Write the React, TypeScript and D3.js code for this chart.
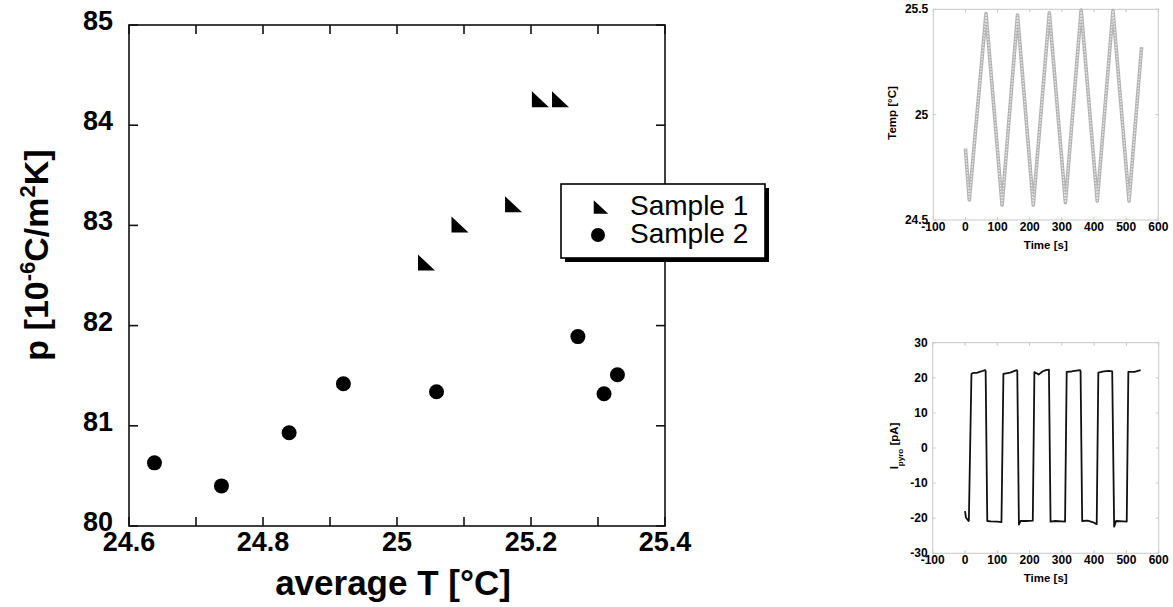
import React from "react";
import * as d3 from "d3";

// ---------- main chart data ----------
const sample1T = [25.214, 25.244, 25.174, 25.094, 25.044];
const sample1P = [84.26, 84.26, 83.21, 83.01, 82.63];
const sample2T = [24.638, 24.738, 24.839, 24.92, 25.059, 25.27, 25.309, 25.329];
const sample2P = [80.63, 80.4, 80.93, 81.42, 81.34, 81.89, 81.32, 81.51];
const xTickValues = [24.6, 24.7, 24.8, 24.9, 25.0, 25.1, 25.2, 25.3, 25.4];
const xTickLabels = ["24.6", "", "24.8", "", "25", "", "25.2", "", "25.4"];
const yTickValues = [80, 81, 82, 83, 84, 85];
const legendLabels = ["Sample 1", "Sample 2"];

// ---------- inset 1: temperature vs time ----------
const tempTime = [0, 12, 64, 114, 162, 211, 261, 311, 360, 410, 459, 509, 548];
const tempValue = [24.84, 24.595, 25.48, 24.571, 25.473, 24.571, 25.484, 24.582, 25.497, 24.59, 25.494, 24.59, 25.32];
const tempYTicks = [24.5, 25, 25.5];
const tempYLabels = ["24.5", "25", "25.5"];

// ---------- inset 2: pyro current vs time ----------
const curTime = [0, 3, 11, 12, 20, 25, 36, 50, 62, 64, 69, 80, 100, 113, 119, 140, 160, 162, 167, 172, 190, 210, 215, 222, 228, 240, 250, 260, 265, 280, 300, 310, 315, 330, 356, 358, 363, 380, 395, 408, 413, 430, 445, 456, 462, 468, 490, 501, 506, 525, 544];
const curValue = [-18, -19.8, -20.8, -20.7, 21.1, 21.4, 21.4, 21.8, 22.2, 21.9, -20.8, -20.9, -21, -21.1, 21.1, 21.5, 22.2, 22, -21.8, -20.8, -20.8, -20.7, 21.6, 21.3, 20.9, 21.8, 22.2, 22.3, -21, -20.8, -20.9, -21, 21.7, 21.8, 22.2, 21.9, -20.8, -20.7, -21.1, -21.7, 21.5, 21.8, 22, 21.8, -22.4, -20.8, -20.9, -21, 21.7, 21.7, 22.2];
const curYTicks = [-30, -20, -10, 0, 10, 20, 30];
const timeTicks = [-100, 0, 100, 200, 300, 400, 500, 600];

const FONT = "'Liberation Sans', Arial, Helvetica, sans-serif";

function Inset({ x0, x1, y0, y1, yDomain, yTicks, yLabels, xs, ys, kind, yTitle }: any) {
  const xs_ = d3.scaleLinear().domain([-100, 600]).range([x0, x1]);
  const ys_ = d3.scaleLinear().domain(yDomain).range([y1, y0]);
  const pts = xs.map((t: number, i: number) => [t, ys[i]] as [number, number]);
  const line = d3.line<[number, number]>().x((d) => xs_(d[0])).y((d) => ys_(d[1]));
  const path = line(pts) || "";
  const gray = "#c8c8c8";
  return (
    <g fontFamily={FONT} fontWeight="bold">
      <rect x={x0} y={y0} width={x1 - x0} height={y1 - y0} fill="none" stroke={gray} strokeWidth={1} />
      {timeTicks.map((t) => (
        <g key={"xt" + t}>
          <line x1={xs_(t)} x2={xs_(t)} y1={y1} y2={y1 - 3} stroke={gray} />
          <line x1={xs_(t)} x2={xs_(t)} y1={y0} y2={y0 + 3} stroke={gray} />
          <text x={xs_(t)} y={y1 + 10.5} fontSize={12} textAnchor="middle">{t}</text>
        </g>
      ))}
      {yTicks.map((v: number, i: number) => (
        <g key={"yt" + v}>
          <line x1={x0} x2={x0 + 3} y1={ys_(v)} y2={ys_(v)} stroke={gray} />
          <line x1={x1} x2={x1 - 3} y1={ys_(v)} y2={ys_(v)} stroke={gray} />
          <text x={x0 - 5} y={ys_(v) + 4} fontSize={12} textAnchor="end">{yLabels[i]}</text>
        </g>
      ))}
      {kind === "temp" ? (
        <g>
          <path d={path} fill="none" stroke="#b4b4b4" strokeWidth={3.6} strokeLinejoin="round" />
          <path d={path} fill="none" stroke="#ececec" strokeWidth={1.3} strokeDasharray="1.5,1.5" />
        </g>
      ) : (
        <path d={path} fill="none" stroke="#111" strokeWidth={1.8} strokeLinejoin="round" />
      )}
      <text x={(x0 + x1) / 2} y={y1 + 29} fontSize={11.5} textAnchor="middle">Time [s]</text>
      {yTitle}
    </g>
  );
}

export default function App() {
  const W = 1173, H = 607;
  const left = 129, right = 665, top = 25, bottom = 526;
  const x = d3.scaleLinear().domain([24.6, 25.4]).range([left, right]);
  const y = d3.scaleLinear().domain([80, 85]).range([bottom, top]);
  const tri = "M -8.5 -8 L -8.5 8 L 8.5 8 Z";

  const legX = 561, legY = 184, legW = 204, legH = 74;

  return (
    <svg width={W} height={H} style={{ position: "absolute", left: 0, top: 0, background: "#fff" }}>
      <rect x={0} y={0} width={W} height={H} fill="#fff" />
      {/* main frame */}
      <rect x={left} y={top} width={right - left} height={bottom - top} fill="none" stroke="#111" strokeWidth={1.6} />
      {xTickValues.map((v, i) => (
        <g key={"x" + i}>
          <line x1={x(v)} x2={x(v)} y1={bottom} y2={bottom - 9} stroke="#111" strokeWidth={1.6} />
          <line x1={x(v)} x2={x(v)} y1={top} y2={top + 9} stroke="#111" strokeWidth={1.6} />
          {xTickLabels[i] && (
            <text x={x(v)} y={bottom + 25} fontSize={27} fontWeight="bold" fontFamily={FONT} textAnchor="middle">
              {xTickLabels[i]}
            </text>
          )}
        </g>
      ))}
      {yTickValues.map((v) => (
        <g key={"y" + v}>
          <line x1={left} x2={left + 9} y1={y(v)} y2={y(v)} stroke="#111" strokeWidth={1.6} />
          <line x1={right} x2={right - 9} y1={y(v)} y2={y(v)} stroke="#111" strokeWidth={1.6} />
          <text x={113} y={y(v) + 5} fontSize={27} fontWeight="bold" fontFamily={FONT} textAnchor="end">
            {v}
          </text>
        </g>
      ))}
      {/* axis titles */}
      <text x={(left + right) / 2 - 4} y={595} fontSize={35} fontWeight="bold" fontFamily={FONT} textAnchor="middle">
        average T [°C]
      </text>
      <text transform="translate(48,255) rotate(-90)" fontSize={34} fontWeight="bold" fontFamily={FONT} textAnchor="middle">
        p [10<tspan dy={-13} fontSize={22}>-6</tspan>
        <tspan dy={13}>C/m</tspan>
        <tspan dy={-13} fontSize={22}>2</tspan>
        <tspan dy={13}>K]</tspan>
      </text>
      {/* data */}
      {sample1T.map((t, i) => (
        <path key={"s1" + i} d={tri} transform={`translate(${x(t)},${y(sample1P[i])})`} fill="#000" />
      ))}
      {sample2T.map((t, i) => (
        <circle key={"s2" + i} cx={x(t)} cy={y(sample2P[i])} r={7.5} fill="#000" />
      ))}
      {/* legend */}
      <rect x={legX + 4} y={legY + 4} width={legW} height={legH} fill="#000" />
      <rect x={legX} y={legY} width={legW} height={legH} fill="#fff" stroke="#000" strokeWidth={1.6} />
      <path d={tri} transform={`translate(${legX + 40},${legY + 23}) scale(0.85)`} fill="#000" />
      <circle cx={legX + 37} cy={legY + 51} r={7} fill="#000" />
      <text x={legX + 69} y={legY + 31} fontSize={28} fontFamily={FONT}>{legendLabels[0]}</text>
      <text x={legX + 69} y={legY + 59} fontSize={28} fontFamily={FONT}>{legendLabels[1]}</text>

      {/* inset 1 */}
      <Inset
        x0={933.3} x1={1158.3} y0={9.3} y1={220}
        yDomain={[24.5, 25.5]} yTicks={tempYTicks} yLabels={tempYLabels}
        xs={tempTime} ys={tempValue} kind="temp"
        yTitle={
          <text transform="translate(896,113) rotate(-90)" fontSize={11.5} textAnchor="middle">Temp [°C]</text>
        }
      />
      {/* inset 2 */}
      <Inset
        x0={932.7} x1={1158.7} y0={342.7} y1={553.3}
        yDomain={[-30, 30]} yTicks={curYTicks} yLabels={curYTicks.map(String)}
        xs={curTime} ys={curValue} kind="cur"
        yTitle={
          <text transform="translate(898,446) rotate(-90)" fontSize={11.5} textAnchor="middle">
            I<tspan dy={5} fontSize={8}>pyro</tspan>
            <tspan dy={-5}> [pA]</tspan>
          </text>
        }
      />
    </svg>
  );
}
